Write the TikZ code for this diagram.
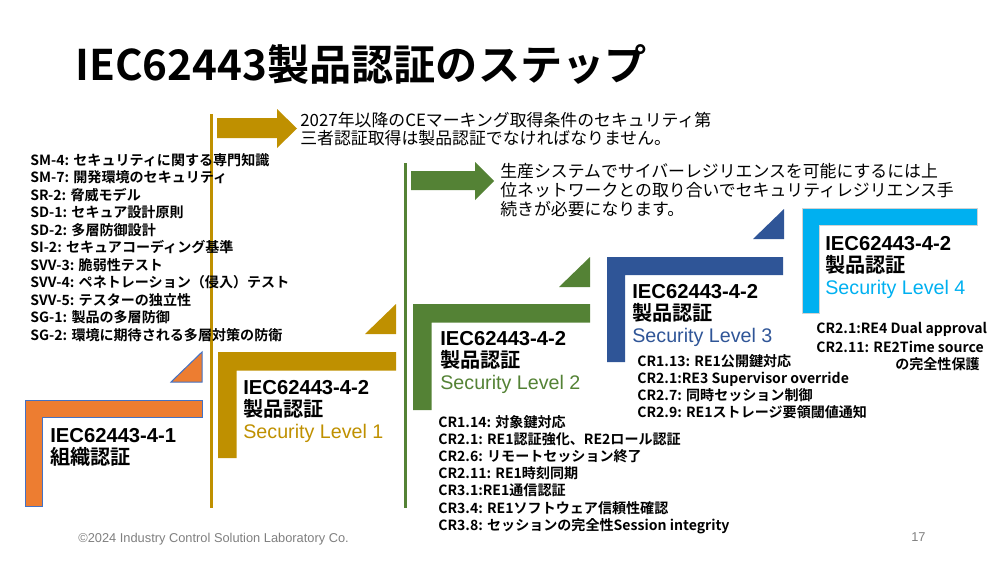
\documentclass[tikz,border=0pt]{standalone}
\usepackage{fontspec}
\setmainfont{Liberation Sans}
\newfontfamily\jp{Noto Sans CJK JP}[BoldFont={Noto Sans CJK JP Bold}]

\definecolor{orangeL}{HTML}{ED7D31}
\definecolor{edgeL}{HTML}{4472C4}
\definecolor{goldL}{HTML}{BF9000}
\definecolor{greenL}{HTML}{548235}
\definecolor{blueL}{HTML}{2F5597}
\definecolor{cyanL}{HTML}{00B0F0}
\definecolor{footgray}{HTML}{7F7F7F}

% L-shaped step: style, left x, top y, right x, bottom y, bar width
\newcommand{\stepL}[6]{%
  \filldraw[#1] (#2,#3) -- (#4,#3) -- (#4,{#3+#6}) -- ({#2+#6},{#3+#6})
    -- ({#2+#6},#5) -- (#2,#5) -- cycle;}
% small triangle over a step: style, right x, bottom y
\newcommand{\stepT}[3]{%
  \filldraw[#1] ({#2-31},#3) -- (#2,{#3-30}) -- (#2,#3) -- cycle;}

\tikzset{
  lst/.style={anchor=base west, inner sep=0pt, font=\jp\bfseries\fontsize{8}{9.6}\selectfont},
  msg/.style={anchor=base west, inner sep=0pt, font=\jp\fontsize{9.6}{11}\selectfont},
  iec/.style={anchor=base west, inner sep=0pt, font=\bfseries\fontsize{11.5}{13}\selectfont},
  cert/.style={anchor=base west, inner sep=0pt, font=\jp\bfseries\fontsize{11.5}{13}\selectfont},
  lvl/.style={anchor=base west, inner sep=0pt, font=\fontsize{11.2}{13}\selectfont},
  foot/.style={anchor=base west, inner sep=0pt, text=footgray, font=\fontsize{7.3}{8}\selectfont},
}

\begin{document}
\begin{tikzpicture}[x=0.2mm, y=-0.2mm]
    \useasboundingbox (0,0) rectangle (1000,562);

    \node[anchor=base west, inner sep=0pt, font=\jp\bfseries\fontsize{24}{28}\selectfont]
      (title) at (75,80) {IEC62443製品認証のステップ};

    % steps
    \stepL{orangeL, draw=edgeL, line width=0.2mm}{25}{400}{202}{506}{17.5}
    \stepT{orangeL, draw=edgeL, line width=0.2mm}{202}{382}
    \stepL{goldL, draw=none}{218}{352}{396}{458}{18.5}
    \stepT{goldL, draw=none}{396}{334}
    \stepL{greenL, draw=none}{413}{304}{590}{410}{18.5}
    \stepT{greenL, draw=none}{590}{287}
    \stepL{blueL, draw=none}{607}{257}{783}{362}{18}
    \stepT{blueL, draw=none}{784}{239}
    \stepL{cyanL, draw=gray!35, line width=0.2mm}{802}{208}{977}{313}{17}

    % vertical lines and arrows
    \draw[goldL, line width=0.6mm] (211,114) -- (211,508);
    \draw[greenL, line width=0.6mm] (405,163) -- (405,508);
    \fill[goldL] (217,118) -- (277,118) -- (277,109) -- (297,128.5)
      -- (277,148) -- (277,138) -- (217,138) -- cycle;
    \fill[greenL] (411,171) -- (475,171) -- (475,162) -- (494,181)
      -- (475,200) -- (475,190) -- (411,190) -- cycle;

    \node[msg] (ce1) at (300,126) {2027年以降のCEマーキング取得条件のセキュリティ第};
    \node[msg] (ce2) at (300,144) {三者認証取得は製品認証でなければなりません。};
    \node[msg] (re1) at (500,177.5) {生産システムでサイバーレジリエンスを可能にするには上};
    \node[msg] (re2) at (500,196.5) {位ネットワークとの取り合いでセキュリティレジリエンス手};
    \node[msg] (re3) at (500,215.5) {続きが必要になります。};

    % step labels
    \node[iec] (iec0) at (50,442) {IEC62443-4-1};
    \node[cert] (cert0) at (50,464.5) {組織認証};
    \foreach \x/\y/\n/\c in {243/394/1/goldL, 440/345/2/greenL, 632/298/3/blueL, 825/250/4/cyanL} {
      \node[iec] (iec\n) at (\x,\y) {IEC62443-4-2};
      \node[cert] (cert\n) at (\x,\y+22.5) {製品認証};
      \node[lvl, text=\c] (lvl\n) at (\x,\y+44.5) {Security Level \n};
    }

    % requirement lists
    \foreach \t [count=\i] in {SM-4: セキュリティに関する専門知識, SM-7: 開発環境のセキュリティ,
        SR-2: 脅威モデル, SD-1: セキュア設計原則, SD-2: 多層防御設計,
        SI-2: セキュアコーディング基準, SVV-3: 脆弱性テスト,
        SVV-4: ペネトレーション（侵入）テスト, SVV-5: テスターの独立性,
        SG-1: 製品の多層防御, SG-2: 環境に期待される多層対策の防衛}
      \node[lst] (sl\i) at (30,{165+17.5*(\i-1)}) {\t};
    \foreach \t [count=\i] in {CR1.14: 対象鍵対応, CR2.1: RE1認証強化、RE2ロール認証,
        CR2.6: リモートセッション終了, CR2.11: RE1時刻同期, CR3.1:RE1通信認証,
        CR3.4: RE1ソフトウェア信頼性確認, CR3.8: セッションの完全性Session integrity}
      \node[lst] (cr2\i) at (438,{427+17.2*(\i-1)}) {\t};
    \foreach \t [count=\i] in {CR1.13: RE1公開鍵対応, CR2.1:RE3 Supervisor override,
        CR2.7: 同時セッション制御, CR2.9: RE1ストレージ要領閾値通知}
      \node[lst] (cr3\i) at (637,{366+17.3*(\i-1)}) {\t};
    \node[lst] (cr41) at (816,333) {CR2.1:RE4 Dual approval};
    \node[lst] (cr42) at (816,352) {CR2.11: RE2Time source};
    \node[lst, anchor=base east] (cr43) at (980,369) {の完全性保護};

    \node[foot] (copy) at (78,542) {©2024 Industry Control Solution Laboratory Co.};
    \node[foot] (page) at (911,541) {17};
\end{tikzpicture}
\end{document}
